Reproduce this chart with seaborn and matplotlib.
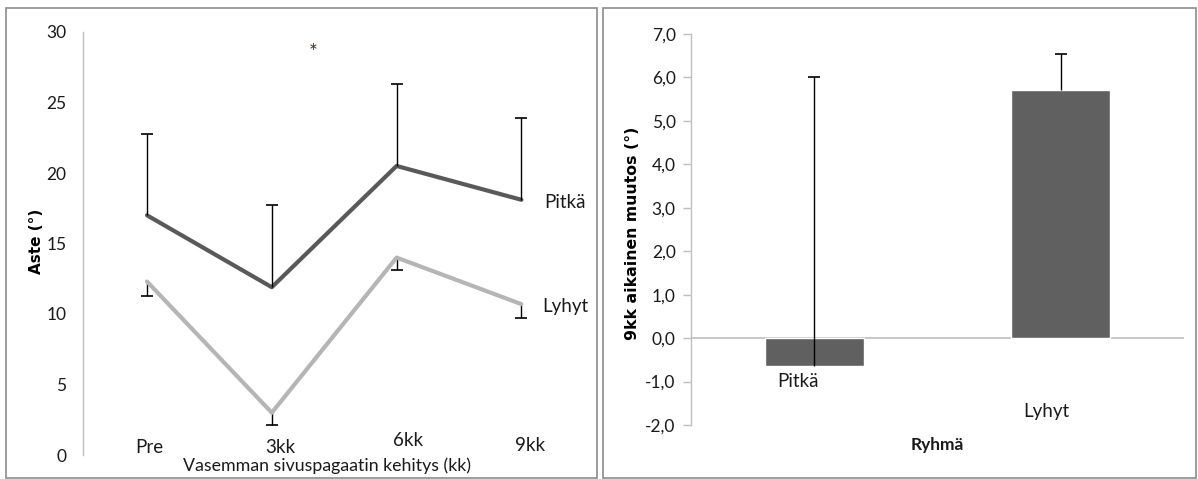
import matplotlib
matplotlib.use("Agg")
import matplotlib.pyplot as plt
import seaborn as sns
import numpy as np
import pandas as pd
from matplotlib.patches import Rectangle

# ---------------- data ----------------
timepoints = ["Pre", "3kk", "6kk", "9kk"]
pitka_mean = [17.0, 11.9, 20.5, 18.1]
pitka_err_up = [5.8, 5.8, 5.8, 5.8]
lyhyt_mean = [12.3, 3.0, 14.0, 10.7]
lyhyt_err_down = [1.0, 0.9, 0.9, 1.0]
group_names = ["Pitkä", "Lyhyt"]

groups = ["Pitkä", "Lyhyt"]
change_mean = [-0.65, 5.7]
change_err_up = [6.65, 0.85]

left_yticks = [0, 5, 10, 15, 20, 25, 30]
right_yticks = [-2, -1, 0, 1, 2, 3, 4, 5, 6, 7]

# ---------------- style ----------------
sns.set_theme(style="white")
plt.rcParams["font.family"] = ["Lato", "DejaVu Sans"]
BOLD_FAM = ["DejaVu Sans"]
TXT = "#1a1a1a"
DARK = "#595959"
LIGHT = "#b5b5b5"
BAR = "#606060"
AXC = "#bfbfbf"
W, H = 1198, 479

fig = plt.figure(figsize=(W / 100, H / 100), dpi=100)

# panel borders
for x0, x1 in [(6, 597), (603, 1196)]:
    fig.patches.append(Rectangle((x0 / W, 1 / H), (x1 - x0) / W, (H - 9) / H,
                                 transform=fig.transFigure, fill=False,
                                 edgecolor="#8c8c8c", linewidth=1.2))

# ---------------- left panel ----------------
axL = fig.add_axes([83 / W, (H - 455) / H, 507 / W, 423 / H])
df = pd.DataFrame({
    "x": list(range(len(timepoints))) * 2,
    "value": pitka_mean + lyhyt_mean,
    "group": [group_names[0]] * 4 + [group_names[1]] * 4,
})
sns.lineplot(data=df, x="x", y="value", hue="group",
             palette={group_names[0]: DARK, group_names[1]: LIGHT},
             linewidth=3.0, legend=False, ax=axL, zorder=2)
xs = np.arange(len(timepoints))
pm = np.array(pitka_mean); pe = np.array(pitka_err_up)
lm = np.array(lyhyt_mean); le = np.array(lyhyt_err_down)
axL.vlines(xs, pm, pm + pe, color="black", linewidth=1.0, zorder=3)
axL.plot(xs, pm + pe, ls="none", marker="_", markersize=8, mew=1.2, color="black", zorder=3)
axL.vlines(xs, lm - le, lm, color="black", linewidth=1.0, zorder=1)
axL.plot(xs, lm - le, ls="none", marker="_", markersize=8, mew=1.2, color="black", zorder=3)

axL.set_xlim(-0.513, 3.55)
axL.set_ylim(0, 30)
axL.set_yticks(left_yticks)
axL.set_yticklabels([str(v) for v in left_yticks], fontsize=12.5, color=TXT)
axL.tick_params(axis="y", length=0, pad=12)
axL.set_xticks([])
axL.set_xlabel("")
axL.set_ylabel("")
for s in ["top", "right", "bottom"]:
    axL.spines[s].set_visible(False)
axL.spines["left"].set_color(AXC)
axL.spines["left"].set_linewidth(1.0)

# category labels (positioned like in the source)
cat_dx = [0.02, 0.07, 0.09, 0.07]
cat_y = [0.5, 0.5, 1.05, 0.7]
for i, lab in enumerate(timepoints):
    axL.text(i + cat_dx[i], cat_y[i], lab, ha="center", va="center",
             fontsize=13.5, color=TXT)
axL.text(0.481, -0.026, "Vasemman sivuspagaatin kehitys (kk)", transform=axL.transAxes,
         ha="center", va="center", fontsize=12.8, color=TXT)
axL.text(-0.091, 0.505, "Aste (°)", transform=axL.transAxes, rotation=90,
         ha="center", va="center", fontsize=11, fontweight="bold",
         family=BOLD_FAM, color="black")
axL.text(3.35, pitka_mean[3] - 0.2, group_names[0], ha="center", va="center",
         fontsize=13.5, color=TXT)
axL.text(3.35, lyhyt_mean[3] - 0.2, group_names[1], ha="center", va="center",
         fontsize=13.5, color=TXT)
axL.text(1.33, 28.5, "*", ha="center", va="center", fontsize=15, color="#4a3020")

# ---------------- right panel ----------------
axR = fig.add_axes([691 / W, (H - 425) / H, 493 / W, 391 / H])
dfb = pd.DataFrame({"group": groups, "value": change_mean})
sns.barplot(data=dfb, x="group", y="value", color=BAR, saturation=1,
            width=0.4, ax=axR, zorder=2)
bx = np.arange(len(groups))
cm = np.array(change_mean); ce = np.array(change_err_up)
axR.vlines(bx, cm, cm + ce, color="black", linewidth=1.0, zorder=3)
axR.plot(bx, cm + ce, ls="none", marker="_", markersize=8, mew=1.2, color="black", zorder=3)
axR.axhline(0, color=AXC, linewidth=1.2, zorder=1)

axR.set_xlim(-0.5, 1.5)
axR.set_ylim(-2, 7)
axR.set_yticks(right_yticks)
axR.set_yticklabels([f"{v:.1f}".replace(".", ",") for v in right_yticks],
                    fontsize=12.5, color=TXT)
axR.tick_params(axis="y", length=6, width=1.0, color=AXC, pad=5, left=True)
axR.set_xticks([])
axR.set_xlabel("")
axR.set_ylabel("")
for s in ["top", "right", "bottom"]:
    axR.spines[s].set_visible(False)
axR.spines["left"].set_color(AXC)
axR.spines["left"].set_linewidth(1.0)

lab_dx = [-0.065, -0.06]
lab_y = [-0.99, -1.68]
for i, g in enumerate(groups):
    axR.text(i + lab_dx[i], lab_y[i], g, ha="center", va="center",
             fontsize=13.5, color=TXT)
axR.text(0.5, -0.051, "Ryhmä", transform=axR.transAxes, ha="center", va="center",
         fontsize=12.5, fontweight="bold", color=TXT)
axR.text(-0.118, 0.49, "9kk aikainen muutos (°)", transform=axR.transAxes,
         rotation=90, ha="center", va="center", fontsize=11.3, fontweight="bold",
         family=BOLD_FAM, color="black")

fig.savefig("out.png", dpi=100)
